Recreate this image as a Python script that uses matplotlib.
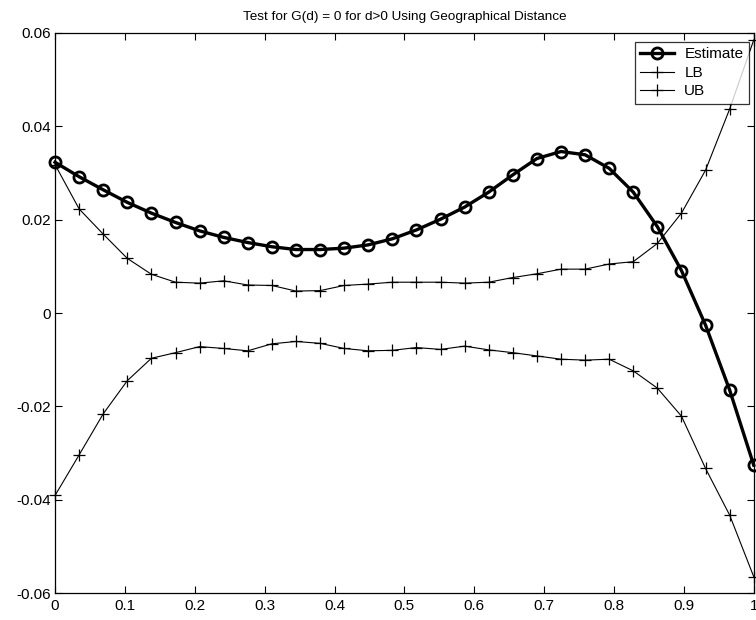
import numpy as np
import matplotlib
matplotlib.use("Agg")
import matplotlib.pyplot as plt
from matplotlib.ticker import FuncFormatter

plt.rcParams['font.family'] = ['Liberation Sans', 'DejaVu Sans']

# distance grid (30 lags on [0, 1])
d = np.linspace(0, 1, 30)

estimate = [0.0323, 0.0292, 0.0264, 0.0237, 0.0214, 0.0194, 0.0176, 0.0162,
            0.0151, 0.0142, 0.0136, 0.0136, 0.0139, 0.0146, 0.0159, 0.0178,
            0.0201, 0.0227, 0.0259, 0.0296, 0.0331, 0.0346, 0.0339, 0.0310,
            0.0259, 0.0185, 0.0091, -0.0026, -0.0165, -0.0326]

lb = [0.0318, 0.0223, 0.0169, 0.0117, 0.0083, 0.0066, 0.0064, 0.0069,
      0.0060, 0.0059, 0.0047, 0.0048, 0.0059, 0.0062, 0.0066, 0.0066,
      0.0066, 0.0064, 0.0066, 0.0076, 0.0084, 0.0094, 0.0094, 0.0105,
      0.0110, 0.0149, 0.0214, 0.0306, 0.0437, 0.0585]

ub = [-0.0391, -0.0304, -0.0216, -0.0145, -0.0097, -0.0085, -0.0072, -0.0076,
      -0.0081, -0.0066, -0.0061, -0.0065, -0.0076, -0.0081, -0.0080, -0.0074,
      -0.0078, -0.0071, -0.0079, -0.0085, -0.0092, -0.0099, -0.0101, -0.0099,
      -0.0124, -0.0161, -0.0221, -0.0333, -0.0433, -0.0565]

xticks = [0, 0.1, 0.2, 0.3, 0.4, 0.5, 0.6, 0.7, 0.8, 0.9, 1.0]
yticks = [-0.06, -0.04, -0.02, 0, 0.02, 0.04, 0.06]

fig = plt.figure(figsize=(7.56, 6.2), dpi=100)
ax = fig.add_axes([0.0728, 0.0435, 0.9242, 0.9033])

ax.plot(d, estimate, color='black', lw=2.4, marker='o', ms=8,
        mfc='none', mec='black', mew=2.0, label='Estimate', clip_on=False)
ax.plot(d, lb, color='black', lw=0.8, marker='+', ms=9, mew=0.9,
        label='LB', clip_on=False)
ax.plot(d, ub, color='black', lw=0.8, marker='+', ms=9, mew=0.9,
        label='UB', clip_on=False)

ax.set_xlim(0, 1)
ax.set_ylim(-0.06, 0.06)
ax.set_xticks(xticks)
ax.set_yticks(yticks)

def matlab_fmt(v, pos):
    s = ('%.2f' % v).rstrip('0').rstrip('.')
    return '0' if s in ('-0', '0') else s

ax.xaxis.set_major_formatter(FuncFormatter(matlab_fmt))
ax.yaxis.set_major_formatter(FuncFormatter(matlab_fmt))
ax.tick_params(direction='in', top=True, right=True, length=5, width=0.8,
               labelsize=11, colors='black')
ax.tick_params(axis='y', pad=3)
ax.tick_params(axis='x', pad=4)
for sp in ax.spines.values():
    sp.set_linewidth(0.9)

ax.set_title('Test for G(d) = 0 for d>0 Using Geographical Distance',
             fontsize=9.7, pad=9)

leg = ax.legend(loc='upper right', bbox_to_anchor=(0.993, 0.984),
                fontsize=11, frameon=True, fancybox=False, borderpad=0.35,
                handlelength=2.2, handletextpad=0.7, labelspacing=0.3,
                borderaxespad=0)
leg.get_frame().set_edgecolor('black')
leg.get_frame().set_linewidth(0.9)

fig.savefig('out.png', dpi=100)
